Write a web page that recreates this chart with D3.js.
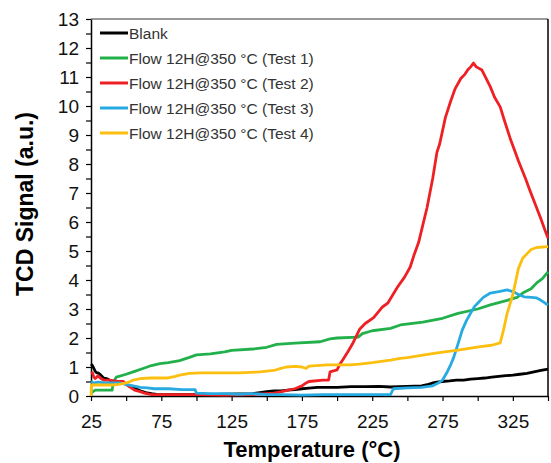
<!DOCTYPE html>
<html>
<head>
<meta charset="utf-8">
<script src="https://cdn.jsdelivr.net/npm/d3@7"></script>
<style>
  body { margin: 0; background: #fff; }
  text { font-family: Arial, "Liberation Sans", sans-serif; }
</style>
</head>
<body>
<svg id="chart" width="551" height="463"></svg>
<script>
// Series values: [temperature °C, TCD signal a.u.]
const blank = [[25,1.1],[26,1.05],[27,0.95],[28,0.85],[29,0.8],[30,0.8],[32,0.72],[34,0.62],[36,0.6],[38,0.55],[40,0.5],[44,0.48],[48,0.45],[52,0.35],[56,0.28],[60,0.18],[64,0.12],[68,0.08],[73,0.05],[80,0.05],[90,0.05],[100,0.05],[110,0.05],[120,0.06],[130,0.07],[140,0.08],[145,0.12],[150,0.15],[155,0.18],[160,0.18],[165,0.2],[170,0.22],[175,0.25],[180,0.27],[186,0.3],[190,0.3],[200,0.3],[210,0.32],[220,0.32],[230,0.33],[238,0.31],[250,0.33],[260,0.35],[265,0.4],[268,0.45],[271,0.48],[275,0.5],[280,0.52],[285,0.55],[290,0.55],[295,0.58],[300,0.6],[305,0.62],[310,0.65],[315,0.68],[320,0.7],[325,0.72],[330,0.75],[335,0.78],[340,0.83],[345,0.88],[350,0.93]];

const test1 = [[25,0.1],[28,0.2],[40,0.2],[41,0.5],[43,0.65],[50,0.75],[56,0.85],[62,0.95],[68,1.05],[74,1.12],[80,1.15],[88,1.22],[95,1.33],[100,1.42],[110,1.45],[120,1.52],[125,1.57],[140,1.62],[150,1.68],[157,1.78],[170,1.82],[188,1.87],[195,1.97],[200,2.0],[215,2.03],[218,2.15],[225,2.25],[238,2.33],[245,2.45],[261,2.55],[275,2.68],[286,2.85],[300,3.0],[309,3.14],[321,3.3],[328,3.4],[333,3.58],[338,3.7],[342,3.9],[346,4.05],[350,4.28]];

const test2 = [[25,0.78],[26,0.8],[27,0.65],[28,0.6],[30,0.7],[32,0.6],[34,0.55],[38,0.55],[44,0.5],[48,0.5],[50,0.4],[53,0.3],[56,0.2],[60,0.15],[63,0.1],[68,0.05],[100,0.05],[120,0.03],[140,0.05],[150,0.08],[155,0.1],[160,0.14],[165,0.2],[170,0.25],[175,0.35],[178,0.45],[180,0.5],[190,0.55],[194,0.55],[195,0.83],[200,0.9],[202,1.1],[204,1.24],[208,1.55],[211,1.8],[216,2.3],[220,2.5],[226,2.7],[232,3.06],[236,3.2],[243,3.76],[248,4.1],[252,4.45],[255,4.9],[258,5.3],[261,5.9],[264,6.5],[266,7.0],[268,7.5],[271,8.4],[273,8.7],[277,9.6],[281,10.2],[284,10.6],[288,10.95],[291,11.1],[293,11.25],[295,11.35],[297,11.48],[299,11.35],[303,11.24],[306,10.95],[309,10.66],[312,10.3],[316,9.97],[319,9.5],[323,8.9],[326,8.5],[329,8.1],[334,7.5],[337,7.1],[341,6.6],[345,6.1],[348,5.7],[350,5.45]];

const test3 = [[25,0.5],[27,0.45],[30,0.48],[35,0.45],[45,0.45],[50,0.4],[55,0.35],[60,0.3],[65,0.28],[70,0.25],[80,0.25],[90,0.22],[99,0.22],[100,0.1],[110,0.08],[120,0.08],[130,0.06],[140,0.08],[150,0.05],[160,0.05],[175,0.03],[190,0.05],[200,0.05],[220,0.05],[238,0.05],[240,0.25],[250,0.28],[260,0.3],[268,0.35],[272,0.45],[275,0.55],[278,0.8],[281,1.1],[283,1.34],[286,1.8],[289,2.27],[292,2.6],[295,2.86],[298,3.1],[300,3.2],[304,3.4],[309,3.55],[315,3.6],[321,3.66],[325,3.6],[329,3.5],[333,3.42],[338,3.4],[342,3.38],[345,3.3],[348,3.2],[350,3.14]];

const test4 = [[25,0.0],[25.3,0.38],[30,0.38],[40,0.38],[45,0.4],[50,0.45],[53,0.5],[55,0.55],[60,0.6],[67,0.62],[79,0.62],[85,0.68],[88,0.72],[95,0.78],[103,0.8],[122,0.8],[130,0.8],[145,0.83],[155,0.88],[160,0.95],[164,1.0],[170,1.02],[175,1.0],[178,0.95],[180,1.03],[193,1.07],[209,1.07],[216,1.1],[225,1.15],[238,1.24],[245,1.3],[250,1.32],[261,1.41],[270,1.48],[286,1.58],[302,1.7],[310,1.75],[316,1.83],[318,2.2],[321,2.86],[325,3.5],[329,4.4],[332,4.75],[335,4.9],[338,5.05],[342,5.12],[350,5.15]];

const seriesNames = ["Blank", "Flow 12H@350 °C (Test 1)", "Flow 12H@350 °C (Test 2)", "Flow 12H@350 °C (Test 3)", "Flow 12H@350 °C (Test 4)"];
const seriesData = [blank, test1, test2, test3, test4];
const seriesColors = ["#000000", "#22b04b", "#ee2024", "#27aae1", "#fdbf0f"];

const xTickLabels = [25, 75, 125, 175, 225, 275, 325];
const yTickLabels = [0, 1, 2, 3, 4, 5, 6, 7, 8, 9, 10, 11, 12, 13];

const plotLeft = 91, plotRight = 548, plotTop = 19, plotBottom = 396;
const svg = d3.select("#chart");

const x = d3.scaleLinear().domain([25, 350]).range([plotLeft, plotRight]);
const y = d3.scaleLinear().domain([0, 13]).range([plotBottom, plotTop]);

// marco: arriba gris, derecha negro
svg.append("line")
    .attr("x1", plotLeft).attr("x2", plotRight).attr("y1", plotTop).attr("y2", plotTop)
    .attr("stroke", "#777").attr("stroke-width", 1.5);
svg.append("line")
    .attr("x1", plotRight).attr("x2", plotRight).attr("y1", plotTop).attr("y2", plotBottom)
    .attr("stroke", "#000").attr("stroke-width", 1.5);

// eje x, marcas cada 25, etiquetas cada 50
const xAxis = svg.append("g")
    .attr("transform", `translate(0,${plotBottom})`)
    .call(d3.axisBottom(x)
        .tickValues(d3.range(25, 351, 25))
        .tickSize(5)
        .tickSizeOuter(0)
        .tickFormat(d => xTickLabels.includes(d) ? d : ""));

// eje y, marcas menores cada 0.5
const yAxis = svg.append("g")
    .attr("transform", `translate(${plotLeft},0)`)
    .call(d3.axisLeft(y)
        .tickValues(d3.range(0, 13.01, 0.5))
        .tickSize(5)
        .tickSizeOuter(0)
        .tickFormat(d => yTickLabels.includes(d) ? d : ""));

[xAxis, yAxis].forEach(g => {
    g.select(".domain").attr("stroke", "#000").attr("stroke-width", 1.5);
    g.selectAll(".tick line").attr("stroke", "#000").attr("stroke-width", 1.2);
    g.selectAll(".tick text")
        .attr("fill", "#111")
        .style("font-size", "19px")
        .style("font-family", "Arial, 'Liberation Sans', sans-serif");
});
xAxis.selectAll(".tick text").attr("y", 12).attr("dy", "1.05em");
yAxis.selectAll(".tick text").attr("x", -12);

// curvas
const line = d3.line()
    .x(d => x(d[0]))
    .y(d => y(d[1]));

seriesData.forEach((data, i) => {
    svg.append("path")
        .datum(data)
        .attr("d", line)
        .attr("fill", "none")
        .attr("stroke", seriesColors[i])
        .attr("stroke-width", 2.8)
        .attr("stroke-linejoin", "round");
});

// leyenda
const legend = svg.append("g").attr("transform", "translate(100,33)");
seriesNames.forEach((name, i) => {
    const row = legend.append("g").attr("transform", `translate(0,${i * 25})`);
    row.append("line")
        .attr("x1", 0).attr("x2", 28).attr("y1", 0).attr("y2", 0)
        .attr("stroke", seriesColors[i]).attr("stroke-width", 3);
    row.append("text")
        .attr("x", 29).attr("y", 5.5)
        .attr("fill", "#333")
        .style("font-size", "15.5px")
        .text(name);
});

// titulos de ejes
svg.append("text")
    .attr("x", 312).attr("y", 457)
    .attr("text-anchor", "middle")
    .style("font-size", "22px").style("font-weight", "bold")
    .text("Temperature (°C)");

svg.append("text")
    .attr("transform", "translate(33,204) rotate(-90)")
    .attr("text-anchor", "middle")
    .style("font-size", "23px").style("font-weight", "bold")
    .text("TCD Signal (a.u.)");
</script>
</body>
</html>
